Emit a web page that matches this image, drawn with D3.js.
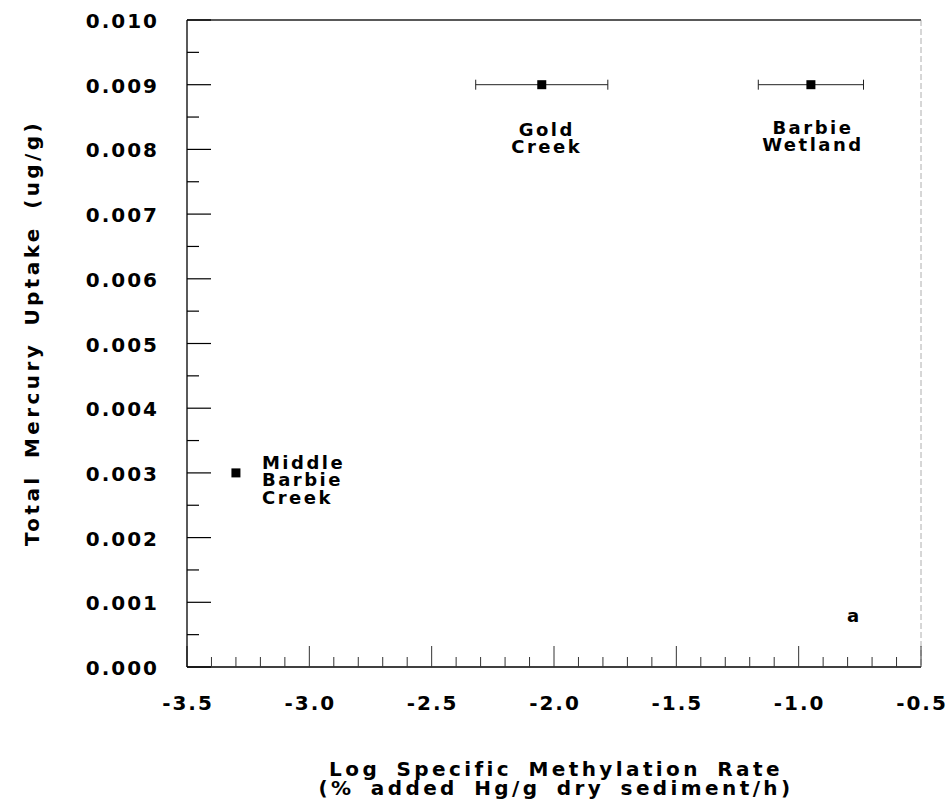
<!DOCTYPE html>
<html>
<head>
<meta charset="utf-8">
<script src="https://cdn.jsdelivr.net/npm/d3@7"></script>
<style>
  body { margin: 0; background: #fff; }
  text { font-family: "DejaVu Sans", "Liberation Sans", sans-serif; font-weight: bold; fill: #000; }
</style>
</head>
<body>
<div id="chart"></div>
<script>
// site data
let sites = ["Gold Creek", "Barbie Wetland", "Middle Barbie Creek"];
let logRate = [-2.05, -0.95, -3.30];
let rateErr = [0.27, 0.215, 0];
let uptake = [0.009, 0.009, 0.003];
let xTicks = [-3.5, -3.0, -2.5, -2.0, -1.5, -1.0, -0.5];
let yTicks = [0, 0.001, 0.002, 0.003, 0.004, 0.005, 0.006, 0.007, 0.008, 0.009, 0.010];

let width = 948, height = 812;
let margin = {left: 187, right: 27, top: 20, bottom: 145};

let svg = d3.select('#chart').append('svg')
    .attr('width', width)
    .attr('height', height);

let x = d3.scaleLinear().domain([-3.5, -0.5]).range([margin.left, width - margin.right]);
let y = d3.scaleLinear().domain([0, 0.010]).range([height - margin.bottom, margin.top]);

// frame: top + right are faint in the scan
svg.append('line')
    .attr('x1', x(-3.5)).attr('x2', x(-0.5))
    .attr('y1', y(0.010)).attr('y2', y(0.010))
    .style('stroke', '#222').style('stroke-width', 1.3);
svg.append('line')
    .attr('x1', x(-0.5)).attr('x2', x(-0.5))
    .attr('y1', y(0.010)).attr('y2', y(0))
    .style('stroke', '#999').style('stroke-width', 0.8)
    .style('stroke-dasharray', '6,3');

let ls = 2; // letter spacing of tick labels

// x axis (ticks point inward)
let xMinor = d3.range(-3.5, -0.45, 0.1).map(v => +v.toFixed(1));
let xAxis = svg.append('g').attr('transform', 'translate(0,' + y(0) + ')');
xAxis.append('line')
    .attr('x1', x(-3.5)).attr('x2', x(-0.5))
    .style('stroke', '#000').style('stroke-width', 1.5);
xAxis.selectAll('.minor').data(xMinor).enter().append('line')
    .attr('x1', d => x(d)).attr('x2', d => x(d))
    .attr('y1', 0).attr('y2', d => xTicks.includes(d) ? -21 : -10)
    .style('stroke', '#333').style('stroke-width', 1);
xAxis.selectAll('text').data(xTicks).enter().append('text')
    .attr('x', d => x(d) + ls / 2).attr('y', 43)
    .attr('text-anchor', 'middle')
    .style('font-size', '20px')
    .style('letter-spacing', ls + 'px')
    .text(d => d3.format('.1f')(d).replace('−', '-'));

// y axis
let yMinor = d3.range(0, 0.01001, 0.0005);
let yAxis = svg.append('g').attr('transform', 'translate(' + x(-3.5) + ',0)');
yAxis.append('line')
    .attr('y1', y(0)).attr('y2', y(0.010))
    .style('stroke', '#000').style('stroke-width', 1.3);
yAxis.selectAll('.tick').data(yMinor).enter().append('line')
    .attr('y1', d => y(d)).attr('y2', d => y(d))
    .attr('x1', 0).attr('x2', (d, i) => i % 2 === 0 ? 24 : 12)
    .style('stroke', '#000').style('stroke-width', 1.2);
yAxis.selectAll('text').data(yTicks).enter().append('text')
    .attr('x', -30 + ls).attr('y', d => y(d) + 8)
    .attr('text-anchor', 'end')
    .style('font-size', '20px')
    .style('letter-spacing', ls + 'px')
    .text(d => d3.format('.3f')(d));

// error bars
let pts = sites.map((s, i) => ({name: s, x: logRate[i], e: rateErr[i], y: uptake[i]}));
let bars = svg.selectAll('.err').data(pts.filter(d => d.e > 0)).enter().append('g');
bars.append('line')
    .attr('x1', d => x(d.x - d.e)).attr('x2', d => x(d.x + d.e))
    .attr('y1', d => y(d.y)).attr('y2', d => y(d.y))
    .style('stroke', '#222').style('stroke-width', 1);
bars.selectAll('.cap').data(d => [d.x - d.e, d.x + d.e].map(v => ({v: v, y: d.y}))).enter().append('line')
    .attr('x1', d => x(d.v)).attr('x2', d => x(d.v))
    .attr('y1', d => y(d.y) - 5).attr('y2', d => y(d.y) + 5)
    .style('stroke', '#222').style('stroke-width', 1);

// markers
svg.selectAll('.pt').data(pts).enter().append('rect')
    .attr('x', d => x(d.x) - 4.5).attr('y', d => y(d.y) - 4.5)
    .attr('width', 9).attr('height', 9)
    .style('fill', '#000');

// site labels
let labels = [
    {lines: ['Gold', 'Creek'], i: 0, dx: 5, dy: 51, anchor: 'middle'},
    {lines: ['Barbie', 'Wetland'], i: 1, dx: 2, dy: 49, anchor: 'middle'},
    {lines: ['Middle', 'Barbie', 'Creek'], i: 2, dx: 26, dy: -4, anchor: 'start'}
];
labels.forEach(function(l) {
    let t = svg.append('text')
        .attr('x', x(logRate[l.i]) + l.dx)
        .attr('y', y(uptake[l.i]) + l.dy)
        .attr('text-anchor', l.anchor)
        .style('font-size', '18px')
        .style('letter-spacing', '2.5px');
    l.lines.forEach(function(s, k) {
        t.append('tspan')
            .attr('x', x(logRate[l.i]) + l.dx)
            .attr('dy', k === 0 ? 0 : 17.5)
            .text(s);
    });
});

svg.append('text')
    .attr('x', 853).attr('y', 622)
    .attr('text-anchor', 'middle')
    .style('font-size', '18px')
    .text('a');

// axis titles
svg.append('text')
    .attr('transform', 'translate(39,' + 333 + ') rotate(-90)')
    .attr('text-anchor', 'middle')
    .style('font-size', '20px')
    .style('letter-spacing', '3.4px')
    .style('word-spacing', '6px')
    .text('Total Mercury Uptake (ug/g)');

let xt = svg.append('text')
    .attr('text-anchor', 'middle')
    .style('font-size', '20px')
    .style('letter-spacing', '3.4px')
    .style('word-spacing', '6px');
xt.append('tspan').attr('x', 556).attr('y', 776).text('Log Specific Methylation Rate');
xt.append('tspan').attr('x', 556).attr('dy', 19).text('(% added Hg/g dry sediment/h)');
</script>
</body>
</html>
